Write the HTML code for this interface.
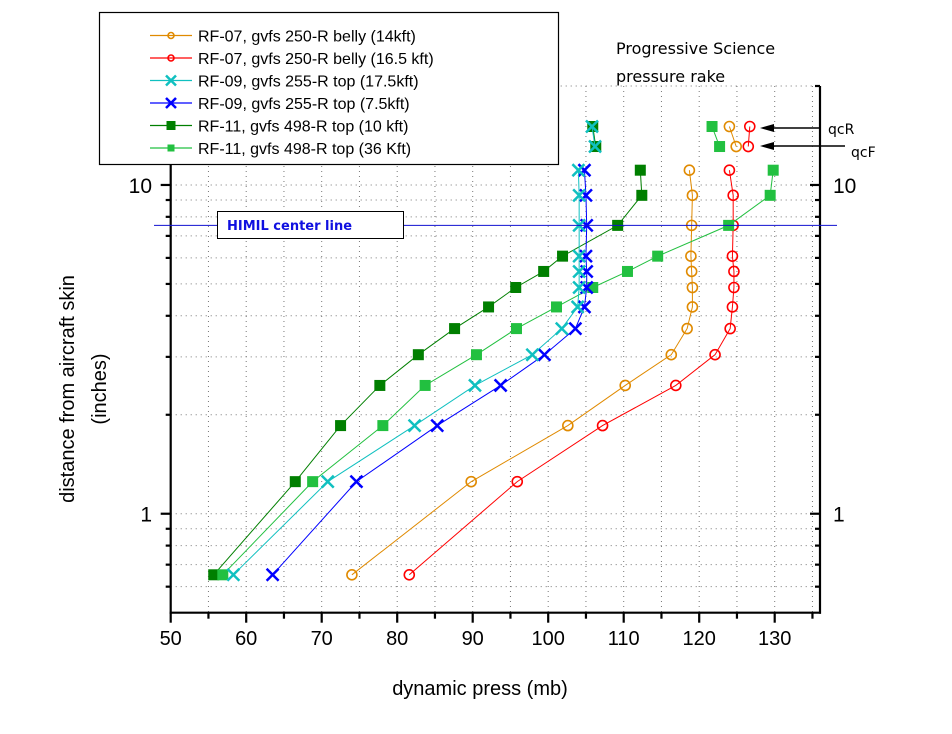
<!DOCTYPE html>
<html><head><meta charset="utf-8">
<style>
html,body{margin:0;padding:0;background:#fff;}
svg{display:block;font-family:"Liberation Sans",sans-serif;}
</style></head>
<body>
<svg id="chart" width="952" height="734" viewBox="0 0 952 734" xmlns="http://www.w3.org/2000/svg">
<g id="grid"></g>
<g id="axes"></g>
<g id="series"></g>
<g id="overlay"></g>
</svg>
<script>
// ----- data -----
const rowsMain = [0.652, 1.252, 1.854, 2.456, 3.046, 3.657, 4.256, 4.877, 5.457, 6.074, 7.535, 9.30, 11.09];
const rowsRake = [13.09, 15.06];
const orangeMain = [74.0, 89.8, 102.6, 110.2, 116.3, 118.4, 119.1, 119.1, 119.0, 118.9, 119.0, 119.1, 118.7];
const orangeRake = [124.9, 124.0];
const redMain = [81.6, 95.9, 107.2, 116.9, 122.1, 124.1, 124.4, 124.6, 124.6, 124.4, 124.5, 124.5, 124.0];
const redRake = [126.5, 126.7];
const cyanMain = [58.3, 70.8, 82.3, 90.3, 97.9, 101.8, 103.9, 104.1, 104.1, 104.1, 104.1, 104.1, 104.0];
const cyanRake = [106.2, 105.8];
const blueMain = [63.5, 74.6, 85.3, 93.7, 99.5, 103.6, 104.8, 105.1, 105.1, 105.0, 105.1, 105.0, 104.8];
const blueRake = [];
const dkGreenMain = [55.7, 66.5, 72.5, 77.7, 82.8, 87.6, 92.1, 95.7, 99.4, 101.9, 109.2, 112.4, 112.2];
const dkGreenRake = [106.3, 105.9];
const ltGreenMain = [56.9, 68.8, 78.1, 83.7, 90.5, 95.8, 101.1, 105.9, 110.5, 114.5, 123.9, 129.4, 129.8];
const ltGreenRake = [122.7, 121.7];
const xTicks = [50, 60, 70, 80, 90, 100, 110, 120, 130];
const yMajor = [1, 10];
const yMinor = [0.6, 0.7, 0.8, 0.9, 2, 3, 4, 5, 6, 7, 8, 9, 20];
const himilLevel = 7.535;
const legendLabels = ["RF-07, gvfs 250-R belly (14kft)", "RF-07, gvfs 250-R belly (16.5 kft)", "RF-09, gvfs 255-R top  (17.5kft)", "RF-09, gvfs 255-R top  (7.5kft)", "RF-11, gvfs 498-R top  (10 kft)", "RF-11, gvfs 498-R top  (36 Kft)"];

// ----- scales -----
const X0 = 170.7, X1 = 820, XMIN = 50, XMAX = 136;
const YB = 612.7, YT = 86, YMIN = 0.5, YMAX = 20;
function sx(v){ return X0 + (v - XMIN) / (XMAX - XMIN) * (X1 - X0); }
function sy(v){ return YB - (Math.log10(v) - Math.log10(YMIN)) / (Math.log10(YMAX) - Math.log10(YMIN)) * (YB - YT); }

const NS = "http://www.w3.org/2000/svg";
function mk(tag, attrs, parent){
  const e = document.createElementNS(NS, tag);
  for (const k in attrs) e.setAttribute(k, attrs[k]);
  parent.appendChild(e);
  return e;
}
const grid = document.getElementById('grid');
const axes = document.getElementById('axes');
const series = document.getElementById('series');
const overlay = document.getElementById('overlay');

// grid
for (let v = 55; v < XMAX; v += 5) {
  const g = mk('line', {x1: sx(v), x2: sx(v), y1: YT, y2: YB, stroke: '#777', 'stroke-width': 1, 'stroke-dasharray': '1,4'}, grid);
  
  
}
yMajor.concat(yMinor).forEach(v => {
  const g = mk('line', {x1: X0, x2: X1, y1: sy(v), y2: sy(v), stroke: '#777', 'stroke-width': 1, 'stroke-dasharray': '1,4'}, grid);
  
  
});

// axes lines (no top line)
const axL = mk('line', {x1: X0, x2: X0, y1: YT, y2: YB + 1, stroke: '#000', 'stroke-width': 2.2}, axes);


const axR = mk('line', {x1: X1, x2: X1, y1: YT, y2: YB + 1, stroke: '#000', 'stroke-width': 2.2}, axes);


const axB = mk('line', {x1: X0 - 1, x2: X1 + 1, y1: YB, y2: YB, stroke: '#000', 'stroke-width': 2.2}, axes);



// x ticks
for (let v = 50; v <= 135; v += 5) {
  const major = v % 10 === 0;
  const t = mk('line', {x1: sx(v), x2: sx(v), y1: YB, y2: YB + (major ? 10 : 6), stroke: '#000', 'stroke-width': 2.2}, axes);
  
  
}
xTicks.forEach(v => {
  const t = mk('text', {x: sx(v), y: 645, 'font-size': 20, 'text-anchor': 'middle', fill: '#000'}, axes);
  t.textContent = v;
  
  
});
// y ticks
yMajor.concat(yMinor).forEach(v => {
  const major = yMajor.includes(v);
  const len = major ? 10 : 5;
  const l = mk('line', {x1: X0 - len, x2: X0, y1: sy(v), y2: sy(v), stroke: '#000', 'stroke-width': 2.2}, axes);
  
  
  const r = mk('line', {x1: X1 - len, x2: X1, y1: sy(v), y2: sy(v), stroke: '#000', 'stroke-width': 2.2}, axes);
  
  
});
yMajor.forEach(v => {
  const a = mk('text', {x: 152, y: sy(v) + 8, 'font-size': 21, 'text-anchor': 'end', fill: '#000'}, axes);
  a.textContent = v;
  
  
  const b = mk('text', {x: 833, y: sy(v) + 8, 'font-size': 21, 'text-anchor': 'start', fill: '#000'}, axes);
  b.textContent = v;
  
  
});

// axis titles
const xt = mk('text', {x: 480, y: 695, 'font-size': 20, 'text-anchor': 'middle', fill: '#000'}, axes);
xt.textContent = 'dynamic press (mb)';


const yt1 = mk('text', {x: 0, y: 0, 'font-size': 20, 'text-anchor': 'middle', fill: '#000', transform: 'translate(74,389) rotate(-90)'}, axes);
yt1.textContent = 'distance from aircraft skin';


const yt2 = mk('text', {x: 0, y: 0, 'font-size': 20, 'text-anchor': 'middle', fill: '#000', transform: 'translate(106,389) rotate(-90)'}, axes);
yt2.textContent = '(inches)';



// markers
function marker(kind, color, x, y, parent, size){
  let e;
  if (kind === 'circle') {
    e = mk('circle', {cx: x, cy: y, r: size || 5, fill: 'none', stroke: color, 'stroke-width': 1.6}, parent);
  } else if (kind === 'square') {
    const s = size || 11;
    e = mk('rect', {x: x - s/2, y: y - s/2, width: s, height: s, fill: color}, parent);
  } else {
    const s = size || 6;
    e = mk('path', {d: `M${x-s},${y-s}L${x+s},${y+s}M${x-s},${y+s}L${x+s},${y-s}`, stroke: color, 'stroke-width': 2.5, fill: 'none'}, parent);
  }
  return e;
}
function drawSeries(name, xs, ys, color, kind){
  const g = mk('g', {}, series);
  
  
  if (xs.length > 1) {
    const pts = xs.map((v, i) => sx(v) + ',' + sy(ys[i])).join(' ');
    const pl = mk('polyline', {points: pts, fill: 'none', stroke: color, 'stroke-width': 1}, g);
    
    
  }
  xs.forEach((v, i) => {
    const m = marker(kind, color, sx(v), sy(ys[i]), g);
    
    
  });
}
const defs = [
  ['rf07-14kft', orangeMain, orangeRake, '#e08a00', 'circle'],
  ['rf07-16kft', redMain, redRake, '#ff0000', 'circle'],
  ['rf11-10kft', dkGreenMain, dkGreenRake, '#007f00', 'square'],
  ['rf11-36kft', ltGreenMain, ltGreenRake, '#22c040', 'square'],
  ['rf09-7kft', blueMain, blueRake, '#0000ff', 'x'],
  ['rf09-17kft', cyanMain, cyanRake, '#10c0c0', 'x'],
];
defs.forEach(d => {
  drawSeries(d[0], d[1], rowsMain, d[3], d[4]);
  drawSeries(d[0] + '-rake', d[2], rowsRake.slice(0, d[2].length), d[3], d[4]);
});

// HIMIL center line
const hy = sy(himilLevel);
const hl = mk('line', {x1: 154, x2: 837, y1: hy, y2: hy, stroke: '#1010d0', 'stroke-width': 1}, overlay);


const hb = mk('rect', {x: 217.5, y: 211.5, width: 186, height: 27, fill: '#fff', stroke: '#000', 'stroke-width': 1}, overlay);


const ht = mk('text', {x: 227, y: 230, 'font-size': 13, 'font-weight': 'bold', fill: '#1010e0', 'font-family': '"DejaVu Sans", sans-serif'}, overlay);
ht.textContent = 'HIMIL center line';



// legend
const lg = mk('g', {}, overlay);


const lb = mk('rect', {x: 99.5, y: 12.5, width: 459, height: 152, fill: '#fff', stroke: '#000', 'stroke-width': 1.2}, lg);


const legColors = ['#e08a00', '#ff0000', '#10c0c0', '#0000ff', '#007f00', '#22c040'];
const legKinds = ['circle', 'circle', 'x', 'x', 'square', 'square'];
const legSizes = [3, 3, 5, 5, 9, 7];
legendLabels.forEach((lab, i) => {
  const y = 35.5 + i * 22.5;
  const e = mk('g', {}, lg);
  
  
  mk('line', {x1: 150, x2: 192, y1: y, y2: y, stroke: legColors[i], 'stroke-width': 1.2}, e);
  marker(legKinds[i], legColors[i], 171, y, e, legSizes[i]);
  const t = mk('text', {x: 198, y: y + 6, 'font-size': 16, fill: '#000'}, e);
  t.textContent = lab;
});

// Progressive Science text
const p1 = mk('text', {x: 616, y: 54, 'font-size': 16, fill: '#000', 'font-family': '"DejaVu Sans", sans-serif'}, overlay);
p1.textContent = 'Progressive Science';


const p2 = mk('text', {x: 616, y: 82, 'font-size': 16, fill: '#000', 'font-family': '"DejaVu Sans", sans-serif'}, overlay);
p2.textContent = 'pressure rake';



// qcR / qcF arrows
[[128, 820, 'qcR', 828, 134], [146, 845, 'qcF', 851, 157]].forEach(a => {
  const g = mk('g', {}, overlay);
  
  
  mk('line', {x1: 768, x2: a[1], y1: a[0], y2: a[0], stroke: '#000', 'stroke-width': 1.5}, g);
  mk('polygon', {points: `760,${a[0]} 774,${a[0]-4} 774,${a[0]+4}`, fill: '#000'}, g);
  const t = mk('text', {x: a[3], y: a[4], 'font-size': 14, fill: '#000', 'font-family': '"DejaVu Sans", sans-serif'}, g);
  t.textContent = a[2];
});
</script>
</body></html>
